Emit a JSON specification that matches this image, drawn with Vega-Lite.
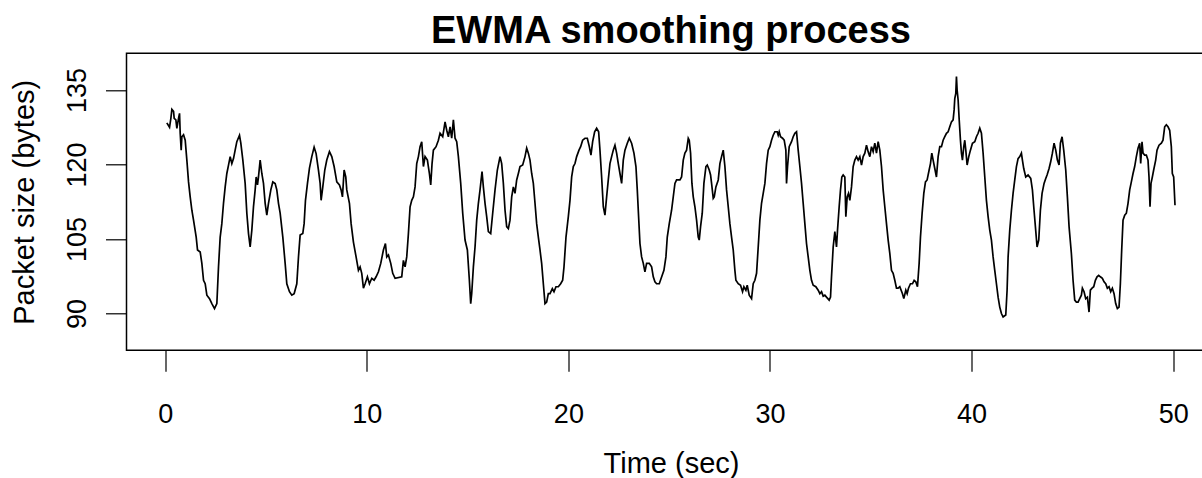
{
  "$schema": "https://vega.github.io/schema/vega-lite/v6.json",
  "width": 1089,
  "height": 297,
  "autosize": {"type": "none"},
  "padding": {"left": 126.5, "top": 53.3, "right": -13.5, "bottom": 127.7},
  "background": "white",
  "title": {
    "text": "EWMA smoothing process",
    "font": "Liberation Sans",
    "fontSize": 38,
    "fontWeight": "bold",
    "color": "black",
    "anchor": "middle",
    "frame": "group",
    "baseline": "alphabetic",
    "offset": -28
  },
  "config": {
    "view": {"stroke": "black", "strokeWidth": 1.5},
    "axis": {
      "grid": false,
      "domain": false,
      "tickColor": "black",
      "tickWidth": 1.2,
      "tickSize": 21,
      "labelFont": "Liberation Sans",
      "labelFontSize": 27,
      "labelColor": "black",
      "titleFont": "Liberation Sans",
      "titleFontSize": 29,
      "titleFontWeight": "normal",
      "titleColor": "black"
    }
  },
  "data": {
    "values": [
      {"t": 0.08, "v": 128.4}, {"t": 0.215, "v": 127.5}, {"t": 0.281, "v": 129.3}, {"t": 0.331, "v": 131.1}, {"t": 0.413, "v": 130.7}, {"t": 0.446, "v": 129.3}, {"t": 0.529, "v": 129.0}, {"t": 0.578, "v": 127.3}, {"t": 0.661, "v": 129.3}, {"t": 0.711, "v": 130.3}, {"t": 0.744, "v": 126.3}, {"t": 0.793, "v": 122.9}, {"t": 0.826, "v": 125.6}, {"t": 0.909, "v": 126.0}, {"t": 0.992, "v": 124.9}, {"t": 1.074, "v": 120.9}, {"t": 1.157, "v": 116.5}, {"t": 1.239, "v": 113.5}, {"t": 1.322, "v": 110.8}, {"t": 1.405, "v": 108.8}, {"t": 1.537, "v": 105.4}, {"t": 1.603, "v": 102.8}, {"t": 1.735, "v": 102.4}, {"t": 1.818, "v": 100.1}, {"t": 1.901, "v": 96.7}, {"t": 1.983, "v": 96.0}, {"t": 2.066, "v": 93.7}, {"t": 2.198, "v": 93.0}, {"t": 2.314, "v": 92.0}, {"t": 2.446, "v": 91.0}, {"t": 2.562, "v": 92.0}, {"t": 2.644, "v": 99.4}, {"t": 2.727, "v": 105.4}, {"t": 2.809, "v": 108.1}, {"t": 2.892, "v": 112.2}, {"t": 2.975, "v": 115.5}, {"t": 3.057, "v": 118.2}, {"t": 3.14, "v": 119.9}, {"t": 3.223, "v": 121.6}, {"t": 3.305, "v": 120.2}, {"t": 3.388, "v": 121.2}, {"t": 3.47, "v": 122.9}, {"t": 3.553, "v": 124.6}, {"t": 3.685, "v": 125.9}, {"t": 3.751, "v": 124.3}, {"t": 3.851, "v": 120.9}, {"t": 3.966, "v": 116.2}, {"t": 4.049, "v": 110.2}, {"t": 4.132, "v": 106.1}, {"t": 4.214, "v": 103.4}, {"t": 4.297, "v": 106.8}, {"t": 4.379, "v": 111.5}, {"t": 4.462, "v": 114.9}, {"t": 4.512, "v": 117.5}, {"t": 4.578, "v": 115.9}, {"t": 4.627, "v": 117.5}, {"t": 4.71, "v": 120.9}, {"t": 4.793, "v": 118.2}, {"t": 4.875, "v": 116.2}, {"t": 4.958, "v": 112.2}, {"t": 5.04, "v": 109.8}, {"t": 5.123, "v": 112.2}, {"t": 5.239, "v": 114.9}, {"t": 5.338, "v": 116.5}, {"t": 5.454, "v": 116.2}, {"t": 5.536, "v": 114.9}, {"t": 5.619, "v": 112.2}, {"t": 5.702, "v": 110.2}, {"t": 5.834, "v": 105.4}, {"t": 5.95, "v": 100.1}, {"t": 6.032, "v": 96.0}, {"t": 6.164, "v": 94.4}, {"t": 6.28, "v": 93.7}, {"t": 6.396, "v": 94.0}, {"t": 6.528, "v": 96.0}, {"t": 6.611, "v": 101.4}, {"t": 6.693, "v": 105.8}, {"t": 6.825, "v": 106.1}, {"t": 6.891, "v": 108.1}, {"t": 6.958, "v": 112.8}, {"t": 7.057, "v": 116.2}, {"t": 7.156, "v": 119.3}, {"t": 7.271, "v": 121.6}, {"t": 7.387, "v": 123.5}, {"t": 7.486, "v": 122.2}, {"t": 7.602, "v": 118.9}, {"t": 7.685, "v": 116.2}, {"t": 7.734, "v": 112.8}, {"t": 7.817, "v": 115.5}, {"t": 7.916, "v": 118.9}, {"t": 8.015, "v": 120.9}, {"t": 8.147, "v": 122.6}, {"t": 8.263, "v": 121.6}, {"t": 8.379, "v": 119.6}, {"t": 8.511, "v": 116.5}, {"t": 8.643, "v": 115.9}, {"t": 8.726, "v": 114.9}, {"t": 8.792, "v": 113.5}, {"t": 8.875, "v": 118.9}, {"t": 8.957, "v": 117.5}, {"t": 9.007, "v": 114.9}, {"t": 9.139, "v": 112.2}, {"t": 9.222, "v": 108.1}, {"t": 9.337, "v": 104.4}, {"t": 9.469, "v": 101.4}, {"t": 9.585, "v": 98.7}, {"t": 9.668, "v": 99.4}, {"t": 9.75, "v": 98.1}, {"t": 9.833, "v": 95.1}, {"t": 9.916, "v": 96.0}, {"t": 10.031, "v": 97.4}, {"t": 10.13, "v": 96.0}, {"t": 10.246, "v": 97.1}, {"t": 10.362, "v": 96.7}, {"t": 10.461, "v": 97.4}, {"t": 10.577, "v": 98.4}, {"t": 10.692, "v": 100.1}, {"t": 10.824, "v": 102.8}, {"t": 10.924, "v": 104.1}, {"t": 10.99, "v": 101.4}, {"t": 11.073, "v": 101.8}, {"t": 11.188, "v": 100.1}, {"t": 11.287, "v": 98.1}, {"t": 11.403, "v": 97.1},
      {"t": 11.733, "v": 97.4}, {"t": 11.816, "v": 100.7}, {"t": 11.899, "v": 99.4}, {"t": 11.981, "v": 101.4}, {"t": 12.064, "v": 106.1}, {"t": 12.147, "v": 111.5}, {"t": 12.229, "v": 112.8}, {"t": 12.312, "v": 113.5}, {"t": 12.394, "v": 115.5}, {"t": 12.477, "v": 120.2}, {"t": 12.56, "v": 121.6}, {"t": 12.642, "v": 123.6}, {"t": 12.725, "v": 124.6}, {"t": 12.808, "v": 119.6}, {"t": 12.89, "v": 121.6}, {"t": 13.006, "v": 120.9}, {"t": 13.105, "v": 118.2}, {"t": 13.171, "v": 115.9}, {"t": 13.237, "v": 120.2}, {"t": 13.303, "v": 122.9}, {"t": 13.436, "v": 123.6}, {"t": 13.551, "v": 124.9}, {"t": 13.634, "v": 126.3}, {"t": 13.766, "v": 125.6}, {"t": 13.882, "v": 128.6}, {"t": 13.964, "v": 126.9}, {"t": 14.047, "v": 125.6}, {"t": 14.13, "v": 127.6}, {"t": 14.212, "v": 125.3}, {"t": 14.295, "v": 129.0}, {"t": 14.378, "v": 125.3}, {"t": 14.46, "v": 124.6}, {"t": 14.543, "v": 121.6}, {"t": 14.659, "v": 116.2}, {"t": 14.758, "v": 110.2}, {"t": 14.873, "v": 104.8}, {"t": 14.989, "v": 102.8}, {"t": 15.088, "v": 96.7}, {"t": 15.154, "v": 92.0}, {"t": 15.204, "v": 94.0}, {"t": 15.287, "v": 99.4}, {"t": 15.369, "v": 103.4}, {"t": 15.452, "v": 108.8}, {"t": 15.535, "v": 112.2}, {"t": 15.617, "v": 114.9}, {"t": 15.716, "v": 118.6}, {"t": 15.782, "v": 115.5}, {"t": 15.865, "v": 112.2}, {"t": 15.947, "v": 109.5}, {"t": 16.03, "v": 106.5}, {"t": 16.146, "v": 106.1}, {"t": 16.245, "v": 110.2}, {"t": 16.361, "v": 114.9}, {"t": 16.476, "v": 118.9}, {"t": 16.609, "v": 121.6}, {"t": 16.691, "v": 120.2}, {"t": 16.774, "v": 116.2}, {"t": 16.857, "v": 110.8}, {"t": 16.939, "v": 107.5}, {"t": 17.022, "v": 107.1}, {"t": 17.104, "v": 108.8}, {"t": 17.187, "v": 113.5}, {"t": 17.27, "v": 115.5}, {"t": 17.352, "v": 114.2}, {"t": 17.435, "v": 116.9}, {"t": 17.518, "v": 118.2}, {"t": 17.6, "v": 119.6}, {"t": 17.733, "v": 119.9}, {"t": 17.848, "v": 121.6}, {"t": 17.931, "v": 123.3}, {"t": 18.013, "v": 122.3}, {"t": 18.096, "v": 120.9}, {"t": 18.179, "v": 118.2}, {"t": 18.261, "v": 116.2}, {"t": 18.344, "v": 112.2}, {"t": 18.426, "v": 108.1}, {"t": 18.509, "v": 105.4}, {"t": 18.592, "v": 102.8}, {"t": 18.674, "v": 100.1}, {"t": 18.757, "v": 96.0}, {"t": 18.84, "v": 92.0}, {"t": 18.922, "v": 92.3}, {"t": 19.005, "v": 94.0}, {"t": 19.088, "v": 94.0}, {"t": 19.204, "v": 95.0}, {"t": 19.286, "v": 94.4}, {"t": 19.385, "v": 95.4}, {"t": 19.501, "v": 95.4}, {"t": 19.617, "v": 96.0}, {"t": 19.716, "v": 96.7}, {"t": 19.782, "v": 99.4}, {"t": 19.881, "v": 105.4}, {"t": 19.997, "v": 109.5}, {"t": 20.079, "v": 112.8}, {"t": 20.162, "v": 117.5}, {"t": 20.244, "v": 119.6}, {"t": 20.327, "v": 120.2}, {"t": 20.41, "v": 121.6}, {"t": 20.526, "v": 122.9}, {"t": 20.608, "v": 123.6}, {"t": 20.707, "v": 124.9}, {"t": 20.823, "v": 125.3}, {"t": 20.939, "v": 125.3}, {"t": 21.038, "v": 123.6}, {"t": 21.12, "v": 121.9}, {"t": 21.203, "v": 124.6}, {"t": 21.302, "v": 126.6}, {"t": 21.401, "v": 127.3}, {"t": 21.5, "v": 126.6}, {"t": 21.566, "v": 122.9}, {"t": 21.649, "v": 117.5}, {"t": 21.732, "v": 111.5}, {"t": 21.814, "v": 109.8}, {"t": 21.897, "v": 113.5}, {"t": 21.979, "v": 116.9}, {"t": 22.062, "v": 120.2}, {"t": 22.145, "v": 121.6}, {"t": 22.227, "v": 122.9}, {"t": 22.31, "v": 123.9}, {"t": 22.393, "v": 122.3}, {"t": 22.475, "v": 120.2}, {"t": 22.558, "v": 118.2}, {"t": 22.641, "v": 116.2}, {"t": 22.723, "v": 120.9}, {"t": 22.806, "v": 122.9}, {"t": 22.922, "v": 124.3}, {"t": 23.021, "v": 125.3}, {"t": 23.136, "v": 124.3}, {"t": 23.252, "v": 122.3}, {"t": 23.351, "v": 119.6}, {"t": 23.417, "v": 114.9}, {"t": 23.483, "v": 109.5}, {"t": 23.55, "v": 104.1}, {"t": 23.632, "v": 101.4}, {"t": 23.715, "v": 100.1}, {"t": 23.797, "v": 98.4}, {"t": 23.88, "v": 100.1}, {"t": 24.012, "v": 100.1}, {"t": 24.128, "v": 99.4}, {"t": 24.211, "v": 97.4}, {"t": 24.293, "v": 96.4}, {"t": 24.376, "v": 96.0}, {"t": 24.508, "v": 96.0},
      {"t": 24.739, "v": 98.7}, {"t": 24.838, "v": 101.4}, {"t": 24.905, "v": 105.4}, {"t": 25.004, "v": 108.1}, {"t": 25.119, "v": 110.8}, {"t": 25.202, "v": 113.5}, {"t": 25.285, "v": 116.2}, {"t": 25.367, "v": 116.9}, {"t": 25.533, "v": 116.9}, {"t": 25.615, "v": 117.5}, {"t": 25.698, "v": 120.9}, {"t": 25.78, "v": 122.3}, {"t": 25.863, "v": 122.9}, {"t": 25.946, "v": 125.3}, {"t": 25.995, "v": 124.9}, {"t": 26.061, "v": 122.3}, {"t": 26.128, "v": 116.2}, {"t": 26.194, "v": 113.5}, {"t": 26.276, "v": 111.5}, {"t": 26.359, "v": 108.8}, {"t": 26.441, "v": 105.4}, {"t": 26.491, "v": 104.8}, {"t": 26.557, "v": 107.5}, {"t": 26.64, "v": 110.2}, {"t": 26.722, "v": 116.2}, {"t": 26.822, "v": 119.6}, {"t": 26.888, "v": 119.9}, {"t": 26.987, "v": 118.9}, {"t": 27.053, "v": 117.9}, {"t": 27.103, "v": 116.2}, {"t": 27.185, "v": 113.2}, {"t": 27.235, "v": 113.5}, {"t": 27.317, "v": 115.5}, {"t": 27.433, "v": 116.9}, {"t": 27.516, "v": 120.2}, {"t": 27.598, "v": 121.6}, {"t": 27.681, "v": 122.9}, {"t": 27.764, "v": 119.6}, {"t": 27.846, "v": 114.9}, {"t": 27.929, "v": 111.5}, {"t": 28.011, "v": 108.1}, {"t": 28.094, "v": 105.4}, {"t": 28.177, "v": 102.8}, {"t": 28.259, "v": 98.7}, {"t": 28.309, "v": 96.7}, {"t": 28.425, "v": 96.0}, {"t": 28.54, "v": 95.7}, {"t": 28.639, "v": 94.4}, {"t": 28.706, "v": 95.4}, {"t": 28.805, "v": 94.7}, {"t": 28.871, "v": 95.7}, {"t": 28.97, "v": 93.7}, {"t": 29.086, "v": 93.0}, {"t": 29.168, "v": 96.0}, {"t": 29.251, "v": 96.7}, {"t": 29.334, "v": 98.1}, {"t": 29.416, "v": 103.4}, {"t": 29.499, "v": 108.8}, {"t": 29.581, "v": 112.2}, {"t": 29.664, "v": 114.2}, {"t": 29.747, "v": 116.2}, {"t": 29.829, "v": 120.2}, {"t": 29.912, "v": 122.9}, {"t": 29.995, "v": 123.6}, {"t": 30.077, "v": 124.9}, {"t": 30.16, "v": 125.9}, {"t": 30.242, "v": 126.6}, {"t": 30.358, "v": 126.6}, {"t": 30.408, "v": 125.9}, {"t": 30.457, "v": 126.6}, {"t": 30.524, "v": 125.6}, {"t": 30.623, "v": 125.3}, {"t": 30.705, "v": 124.9}, {"t": 30.788, "v": 122.9}, {"t": 30.821, "v": 116.2}, {"t": 30.871, "v": 119.6}, {"t": 30.953, "v": 123.6}, {"t": 31.069, "v": 124.6}, {"t": 31.151, "v": 125.6}, {"t": 31.234, "v": 126.3}, {"t": 31.317, "v": 126.6}, {"t": 31.399, "v": 122.9}, {"t": 31.482, "v": 119.6}, {"t": 31.565, "v": 116.2}, {"t": 31.647, "v": 112.2}, {"t": 31.73, "v": 108.1}, {"t": 31.812, "v": 104.1}, {"t": 31.895, "v": 101.4}, {"t": 31.978, "v": 98.7}, {"t": 32.06, "v": 96.7}, {"t": 32.143, "v": 95.7}, {"t": 32.275, "v": 95.4}, {"t": 32.391, "v": 94.7}, {"t": 32.474, "v": 94.0}, {"t": 32.556, "v": 94.4}, {"t": 32.639, "v": 93.5}, {"t": 32.721, "v": 93.7}, {"t": 32.804, "v": 93.3}, {"t": 32.936, "v": 92.7}, {"t": 33.003, "v": 93.3}, {"t": 33.052, "v": 97.4}, {"t": 33.135, "v": 103.4}, {"t": 33.218, "v": 106.5}, {"t": 33.3, "v": 103.4}, {"t": 33.35, "v": 106.8}, {"t": 33.432, "v": 111.5}, {"t": 33.498, "v": 114.9}, {"t": 33.564, "v": 117.5}, {"t": 33.63, "v": 117.9}, {"t": 33.713, "v": 117.5}, {"t": 33.763, "v": 109.5}, {"t": 33.829, "v": 113.5}, {"t": 33.895, "v": 114.2}, {"t": 33.961, "v": 112.8}, {"t": 34.044, "v": 115.5}, {"t": 34.126, "v": 119.6}, {"t": 34.209, "v": 120.9}, {"t": 34.292, "v": 121.6}, {"t": 34.374, "v": 120.9}, {"t": 34.457, "v": 121.6}, {"t": 34.54, "v": 119.9}, {"t": 34.622, "v": 121.6}, {"t": 34.705, "v": 122.3}, {"t": 34.787, "v": 123.9}, {"t": 34.87, "v": 122.6}, {"t": 34.953, "v": 121.6}, {"t": 35.035, "v": 123.6}, {"t": 35.118, "v": 122.6}, {"t": 35.2, "v": 124.3}, {"t": 35.283, "v": 122.3}, {"t": 35.366, "v": 124.6}, {"t": 35.448, "v": 122.9}, {"t": 35.531, "v": 119.6}, {"t": 35.614, "v": 114.9}, {"t": 35.696, "v": 111.5}, {"t": 35.779, "v": 108.1}, {"t": 35.862, "v": 104.8}, {"t": 35.944, "v": 102.1}, {"t": 36.027, "v": 98.7}, {"t": 36.109, "v": 98.1}, {"t": 36.192, "v": 96.7}, {"t": 36.275, "v": 95.1}, {"t": 36.357, "v": 95.1}, {"t": 36.44, "v": 95.4}, {"t": 36.572, "v": 94.0}, {"t": 36.638, "v": 93.0}, {"t": 36.737, "v": 94.7}, {"t": 36.804, "v": 94.0}, {"t": 36.87, "v": 95.1}, {"t": 36.969, "v": 96.0}, {"t": 37.068, "v": 96.0}, {"t": 37.151, "v": 96.7}, {"t": 37.233, "v": 96.4}, {"t": 37.316, "v": 95.4}, {"t": 37.399, "v": 100.1}, {"t": 37.465, "v": 105.4}, {"t": 37.547, "v": 110.2}, {"t": 37.63, "v": 114.2}, {"t": 37.713, "v": 116.5}, {"t": 37.795, "v": 116.9}, {"t": 37.895, "v": 118.9}, {"t": 37.961, "v": 120.2}, {"t": 38.027, "v": 122.3}, {"t": 38.093, "v": 120.9}, {"t": 38.175, "v": 119.2}, {"t": 38.258, "v": 117.5}, {"t": 38.341, "v": 121.6}, {"t": 38.423, "v": 123.6},
      {"t": 38.506, "v": 123.6}, {"t": 38.589, "v": 124.9}, {"t": 38.671, "v": 125.6}, {"t": 38.754, "v": 126.3}, {"t": 38.837, "v": 126.6}, {"t": 38.919, "v": 127.6}, {"t": 39.002, "v": 128.6}, {"t": 39.085, "v": 129.0}, {"t": 39.134, "v": 131.0}, {"t": 39.167, "v": 133.3}, {"t": 39.217, "v": 134.3}, {"t": 39.25, "v": 137.7}, {"t": 39.283, "v": 135.0}, {"t": 39.333, "v": 133.0}, {"t": 39.382, "v": 129.3}, {"t": 39.448, "v": 124.9}, {"t": 39.498, "v": 122.3}, {"t": 39.547, "v": 120.9}, {"t": 39.613, "v": 123.6}, {"t": 39.663, "v": 124.9}, {"t": 39.713, "v": 122.9}, {"t": 39.779, "v": 119.9}, {"t": 39.861, "v": 121.6}, {"t": 39.944, "v": 122.9}, {"t": 40.043, "v": 124.3}, {"t": 40.159, "v": 124.6}, {"t": 40.241, "v": 125.6}, {"t": 40.324, "v": 126.3}, {"t": 40.407, "v": 127.3}, {"t": 40.489, "v": 126.3}, {"t": 40.572, "v": 122.3}, {"t": 40.655, "v": 117.5}, {"t": 40.737, "v": 112.8}, {"t": 40.82, "v": 109.5}, {"t": 40.902, "v": 106.8}, {"t": 40.985, "v": 104.8}, {"t": 41.068, "v": 101.4}, {"t": 41.15, "v": 98.7}, {"t": 41.233, "v": 96.0}, {"t": 41.316, "v": 93.3}, {"t": 41.398, "v": 91.3}, {"t": 41.481, "v": 90.0}, {"t": 41.564, "v": 89.3}, {"t": 41.696, "v": 89.7}, {"t": 41.762, "v": 94.7}, {"t": 41.812, "v": 101.4}, {"t": 41.894, "v": 106.8}, {"t": 41.977, "v": 110.8}, {"t": 42.059, "v": 114.2}, {"t": 42.142, "v": 116.9}, {"t": 42.225, "v": 119.6}, {"t": 42.307, "v": 121.2}, {"t": 42.39, "v": 121.6}, {"t": 42.472, "v": 122.3}, {"t": 42.522, "v": 120.9}, {"t": 42.588, "v": 119.2}, {"t": 42.687, "v": 117.5}, {"t": 42.803, "v": 117.9}, {"t": 42.935, "v": 117.2}, {"t": 43.018, "v": 114.9}, {"t": 43.084, "v": 111.5}, {"t": 43.166, "v": 107.5}, {"t": 43.249, "v": 103.4}, {"t": 43.332, "v": 104.8}, {"t": 43.414, "v": 110.8}, {"t": 43.497, "v": 114.2}, {"t": 43.596, "v": 116.2}, {"t": 43.679, "v": 117.2}, {"t": 43.745, "v": 117.9}, {"t": 43.844, "v": 119.2}, {"t": 43.927, "v": 120.6}, {"t": 44.009, "v": 122.3}, {"t": 44.092, "v": 124.3}, {"t": 44.175, "v": 122.9}, {"t": 44.257, "v": 120.9}, {"t": 44.34, "v": 119.9}, {"t": 44.406, "v": 124.3}, {"t": 44.489, "v": 125.6}, {"t": 44.571, "v": 122.9}, {"t": 44.671, "v": 118.9}, {"t": 44.753, "v": 113.5}, {"t": 44.836, "v": 107.5}, {"t": 44.951, "v": 102.1}, {"t": 45.034, "v": 96.7}, {"t": 45.117, "v": 92.7}, {"t": 45.199, "v": 92.3}, {"t": 45.282, "v": 92.3}, {"t": 45.364, "v": 93.0}, {"t": 45.447, "v": 93.7}, {"t": 45.497, "v": 95.1}, {"t": 45.58, "v": 94.4}, {"t": 45.662, "v": 93.0}, {"t": 45.745, "v": 93.3}, {"t": 45.827, "v": 90.3}, {"t": 45.893, "v": 94.7}, {"t": 45.976, "v": 95.1}, {"t": 46.059, "v": 95.4}, {"t": 46.141, "v": 96.7}, {"t": 46.224, "v": 97.4}, {"t": 46.306, "v": 97.7}, {"t": 46.389, "v": 97.4}, {"t": 46.488, "v": 97.1}, {"t": 46.571, "v": 96.4}, {"t": 46.654, "v": 96.0}, {"t": 46.736, "v": 95.1}, {"t": 46.819, "v": 95.4}, {"t": 46.902, "v": 94.4}, {"t": 46.984, "v": 95.1}, {"t": 47.067, "v": 94.0}, {"t": 47.149, "v": 92.0}, {"t": 47.232, "v": 91.0}, {"t": 47.315, "v": 91.3}, {"t": 47.381, "v": 96.0}, {"t": 47.447, "v": 102.8}, {"t": 47.513, "v": 108.8}, {"t": 47.596, "v": 109.8}, {"t": 47.678, "v": 110.2}, {"t": 47.761, "v": 112.2}, {"t": 47.844, "v": 114.9}, {"t": 47.926, "v": 116.5}, {"t": 48.009, "v": 118.2}, {"t": 48.091, "v": 119.6}, {"t": 48.174, "v": 121.6}, {"t": 48.257, "v": 123.3}, {"t": 48.339, "v": 124.3}, {"t": 48.389, "v": 120.2}, {"t": 48.455, "v": 124.6}, {"t": 48.505, "v": 122.3}, {"t": 48.587, "v": 121.9}, {"t": 48.67, "v": 121.9}, {"t": 48.752, "v": 120.9}, {"t": 48.802, "v": 117.5}, {"t": 48.852, "v": 111.5}, {"t": 48.901, "v": 116.2}, {"t": 48.967, "v": 117.5}, {"t": 49.033, "v": 118.9}, {"t": 49.133, "v": 120.9}, {"t": 49.199, "v": 122.9}, {"t": 49.298, "v": 123.9}, {"t": 49.414, "v": 124.3}, {"t": 49.496, "v": 124.9}, {"t": 49.579, "v": 127.6}, {"t": 49.661, "v": 128.0}, {"t": 49.744, "v": 127.6}, {"t": 49.827, "v": 126.9}, {"t": 49.909, "v": 123.6}, {"t": 49.959, "v": 118.2}, {"t": 50.025, "v": 117.5}, {"t": 50.091, "v": 111.8}
    ]
  },
  "mark": {"type": "line", "color": "black", "strokeWidth": 1.7, "interpolate": "linear"},
  "encoding": {
    "x": {
      "field": "t",
      "type": "quantitative",
      "scale": {"domain": [-1.92, 52.1], "nice": false, "zero": false},
      "axis": {
        "title": "Time (sec)",
        "values": [0, 10, 20, 30, 40, 50],
        "labelBaseline": "alphabetic",
        "labelPadding": 51.5,
        "labelAlign": "center",
        "titleBaseline": "alphabetic",
        "titleX": 544.5,
        "titleY": 122.5,
        "titleAnchor": "middle"
      }
    },
    "y": {
      "field": "v",
      "type": "quantitative",
      "scale": {"domain": [82.6, 142.4], "nice": false, "zero": false},
      "axis": {
        "title": "Packet size (bytes)",
        "values": [90, 105, 120, 135],
        "labelAngle": -90,
        "labelAlign": "center",
        "labelBaseline": "alphabetic",
        "labelPadding": 20,
        "titleAngle": -90,
        "titleBaseline": "alphabetic",
        "titleX": -93.5,
        "titleY": 148.5,
        "titleAlign": "center"
      }
    }
  }
}
